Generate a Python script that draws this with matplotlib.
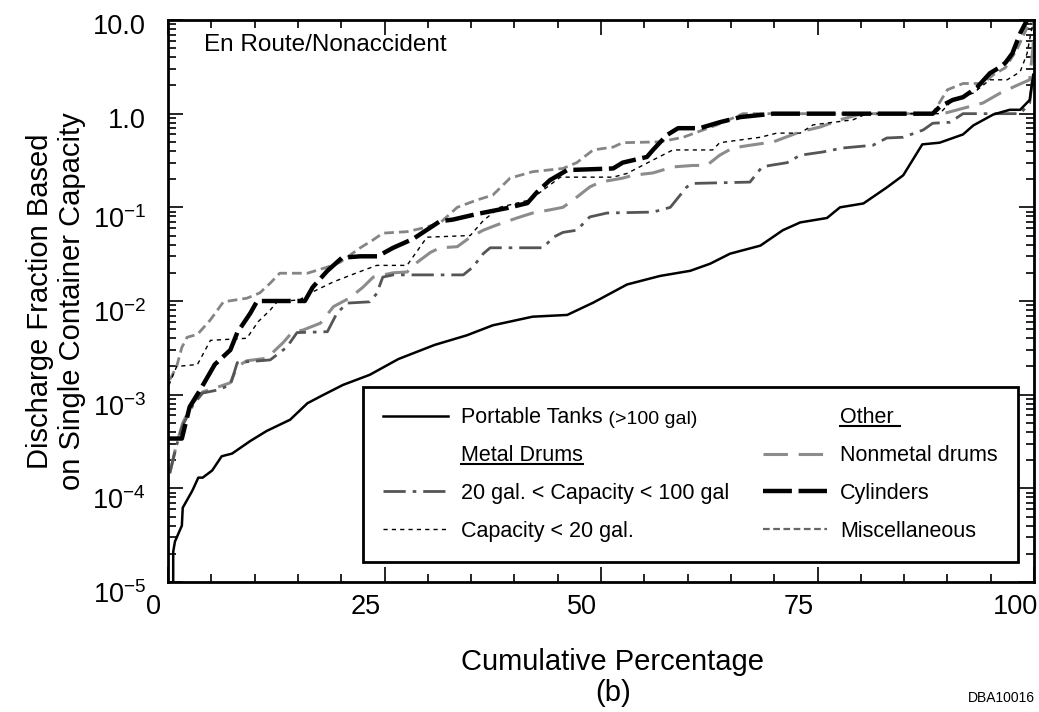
import numpy as np
import matplotlib
matplotlib.use("Agg")
import matplotlib.pyplot as plt
import matplotlib.ticker as mticker
import matplotlib.transforms as mtransforms
from matplotlib.lines import Line2D

plt.rcParams['font.family'] = ['Liberation Sans', 'DejaVu Sans']
plt.rcParams['mathtext.fontset'] = 'custom'
plt.rcParams['mathtext.rm'] = 'Liberation Sans'
plt.rcParams['mathtext.it'] = 'Liberation Sans'

# ---- data (x = cumulative %, y = discharge fraction) ----
pt_x = [0.6, 0.6, 0.8, 1.6, 1.7, 2.8, 3.5, 4.0, 5.1, 6.2, 7.4, 9.5, 11.4, 14.1, 16.1, 17.9,
        20.2, 23.3, 26.6, 30.8, 34.5, 37.5, 42.1, 46.1, 49.1, 53.0, 56.8, 60.3, 62.6, 64.9,
        68.4, 71.0, 73.0, 76.1, 77.6, 80.3, 83.0, 84.9, 87.1, 89.1, 91.8, 93.0, 95.3, 97.2,
        98.4, 99.5, 99.9]
pt_y = [1.0e-5, 2.1e-5, 2.7e-5, 4.0e-5, 6.2e-5, 9.4e-5, 1.3e-4, 1.3e-4, 1.55e-4, 2.2e-4,
        2.35e-4, 3.2e-4, 4.1e-4, 5.4e-4, 8.1e-4, 9.9e-4, 1.27e-3, 1.63e-3, 2.4e-3, 3.4e-3,
        4.3e-3, 5.5e-3, 6.8e-3, 7.1e-3, 9.6e-3, 0.015, 0.0185, 0.021, 0.025, 0.032, 0.039,
        0.057, 0.069, 0.077, 0.10, 0.11, 0.163, 0.22, 0.47, 0.49, 0.6, 0.75, 0.98, 1.1, 1.1,
        1.4, 2.6]

md_x = [0.2, 1.0, 1.7, 2.9, 4.0, 5.7, 7.2, 8.0, 11.8, 13.7, 14.9, 18.4, 19.5, 20.7, 23.3,
        24.1, 24.8, 26.0, 34.1, 35.2, 36.4, 37.2, 43.3, 44.5, 45.6, 47.2, 48.7, 50.7, 56.0,
        58.0, 59.9, 60.6, 67.2, 68.6, 69.5, 71.5, 73.0, 75.6, 77.9, 81.4, 83.0, 84.9, 87.2,
        88.3, 90.3, 91.8, 98.4, 99.5, 99.9]
md_y = [1.45e-4, 2.9e-4, 4.7e-4, 7.8e-4, 1.04e-3, 1.12e-3, 1.27e-3, 2.2e-3, 2.35e-3, 3.2e-3,
        4.6e-3, 4.7e-3, 7.4e-3, 9.5e-3, 9.8e-3, 0.012, 0.018, 0.019, 0.019, 0.023, 0.032,
        0.037, 0.037, 0.048, 0.054, 0.057, 0.079, 0.087, 0.089, 0.10, 0.165, 0.18, 0.186,
        0.27, 0.28, 0.30, 0.36, 0.39, 0.43, 0.46, 0.55, 0.56, 0.67, 0.79, 0.81, 1.0, 1.0,
        1.3, 2.6]

c20_x = [0.1, 1.0, 3.4, 4.9, 9.1, 10.4, 11.8, 12.6, 15.2, 16.7, 19.1, 21.8, 24.1, 27.6,
         29.9, 34.9, 36.4, 38.3, 41.8, 43.8, 45.3, 51.4, 53.0, 56.0, 58.3, 62.9, 63.7, 68.4,
         70.3, 73.0, 74.5, 79.1, 80.7, 89.1, 90.6, 93.0, 94.9, 96.9, 98.4, 99.2, 99.7, 100.0]
c20_y = [1.26e-3, 2.0e-3, 2.1e-3, 3.8e-3, 4.0e-3, 6.0e-3, 8.0e-3, 9.8e-3, 0.0103, 0.0125,
         0.016, 0.020, 0.024, 0.024, 0.048, 0.050, 0.072, 0.10, 0.12, 0.165, 0.21, 0.21,
         0.23, 0.32, 0.41, 0.41, 0.49, 0.56, 0.62, 0.62, 0.76, 0.86, 1.0, 1.0, 1.4, 1.66,
         2.3, 2.3, 2.8, 4.4, 7.8, 10.0]

nm_x = [0.2, 1.0, 1.7, 2.9, 4.0, 5.7, 7.2, 8.0, 9.1, 11.4, 13.3, 14.3, 15.6, 17.6, 19.1,
        21.0, 22.5, 23.7, 26.0, 27.6, 28.8, 30.3, 31.4, 33.4, 34.9, 36.4, 38.0, 40.3, 42.1,
        44.1, 45.6, 46.8, 48.7, 49.9, 52.5, 53.7, 56.0, 58.3, 60.6, 62.2, 63.7, 65.2, 67.2,
        69.9, 73.0, 75.3, 77.6, 79.6, 81.4, 89.5, 94.1, 96.1, 98.0, 99.5, 99.9, 100.0]
nm_y = [1.45e-4, 3.0e-4, 5.0e-4, 8.2e-4, 1.07e-3, 1.2e-3, 1.34e-3, 2.0e-3, 2.3e-3, 2.45e-3,
        3.6e-3, 4.6e-3, 4.9e-3, 5.8e-3, 8.7e-3, 0.0108, 0.014, 0.018, 0.020, 0.0204, 0.026,
        0.033, 0.037, 0.038, 0.048, 0.057, 0.065, 0.077, 0.087, 0.094, 0.10, 0.12, 0.165,
        0.186, 0.205, 0.22, 0.233, 0.27, 0.28, 0.28, 0.36, 0.43, 0.46, 0.50, 0.64, 0.72,
        0.86, 0.97, 1.0, 1.0, 1.3, 1.66, 2.0, 2.3, 5.4, 10.0]

cy_x = [0.0, 1.6, 2.5, 3.7, 5.4, 7.2, 8.0, 9.5, 10.3, 15.8, 16.7, 18.4, 20.1, 22.2, 24.2,
        26.0, 28.3, 31.4, 32.9, 35.7, 39.1, 41.5, 42.6, 44.1, 46.1, 51.4, 52.5, 55.3, 56.0,
        57.6, 58.9, 61.4, 63.7, 66.1, 69.9, 88.3, 89.1, 90.6, 91.8, 93.4, 94.9, 96.1, 96.7,
        97.5, 98.4, 99.2]
cy_y = [3.4e-4, 3.4e-4, 7.4e-4, 1.12e-3, 2.1e-3, 3.0e-3, 4.6e-3, 7.4e-3, 0.0100, 0.0100,
        0.014, 0.021, 0.029, 0.030, 0.030, 0.037, 0.046, 0.071, 0.074, 0.085, 0.098, 0.111,
        0.145, 0.195, 0.25, 0.26, 0.30, 0.345, 0.41, 0.59, 0.70, 0.70, 0.81, 0.92, 1.0, 1.0,
        1.18, 1.4, 1.5, 1.9, 2.7, 3.15, 3.5, 4.4, 7.2, 10.0]

mi_x = [0.2, 1.0, 1.6, 2.2, 3.4, 4.9, 6.4, 9.1, 10.6, 11.8, 12.9, 16.1, 18.4, 19.9, 22.2,
        23.7, 24.8, 27.6, 29.4, 31.4, 33.4, 35.7, 37.5, 39.5, 42.1, 45.6, 47.2, 49.1, 51.4,
        52.5, 56.8, 59.5, 63.4, 66.4, 88.3, 90.0, 91.8, 94.1, 95.3, 96.7, 98.0, 99.5, 99.8]
mi_y = [1.44e-3, 2.0e-3, 3.2e-3, 4.1e-3, 4.4e-3, 6.3e-3, 9.8e-3, 0.0107, 0.0122, 0.0155,
        0.0198, 0.0198, 0.023, 0.026, 0.037, 0.045, 0.053, 0.055, 0.060, 0.068, 0.10, 0.12,
        0.135, 0.205, 0.24, 0.26, 0.30, 0.41, 0.44, 0.49, 0.50, 0.56, 0.76, 1.0, 1.0, 1.8,
        2.1, 2.1, 2.6, 3.1, 4.8, 9.5, 10.0]

x_ticks = [0, 25, 50, 75, 100]
y_ticks = [1e-5, 1e-4, 1e-3, 1e-2, 1e-1, 1.0, 10.0]
y_ticklabels = [r'$10^{-5}$', r'$10^{-4}$', r'$10^{-3}$', r'$10^{-2}$', r'$10^{-1}$', '1.0', '10.0']

# line styles
st_mi = dict(color='#858585', lw=2.0, dashes=(3.5, 1.8))
st_nm = dict(color='#8c8c8c', lw=2.2, dashes=(8, 3.5))
st_md = dict(color='#555555', lw=2.0, dashes=(8, 2.5, 1.3, 2.5))
st_c20 = dict(color='black', lw=1.0, dashes=(3, 3))
st_cy = dict(color='black', lw=3.2, dashes=(6.5, 1.5))
st_pt = dict(color='black', lw=1.8)

fig = plt.figure(figsize=(10.39, 7.12), dpi=100)
ax = fig.add_axes([0.1617, 0.1826, 0.8335, 0.7893])

ax.plot(mi_x, mi_y, zorder=2, **st_mi)
ax.plot(nm_x, nm_y, zorder=2, **st_nm)
ax.plot(md_x, md_y, zorder=2, **st_md)
ax.plot(c20_x, c20_y, zorder=3, **st_c20)
ax.plot(cy_x, cy_y, zorder=3, **st_cy)
ax.plot(pt_x, pt_y, zorder=3, **st_pt)

ax.set_yscale('log')
ax.set_xlim(0, 100)
ax.set_ylim(1e-5, 10)
ax.set_xticks(x_ticks)
ax.set_xticklabels([str(v) for v in x_ticks])
ax.xaxis.set_minor_locator(mticker.MultipleLocator(5))
ax.set_yticks(y_ticks)
ax.set_yticklabels(y_ticklabels)
ax.yaxis.set_minor_locator(mticker.LogLocator(base=10, subs=np.arange(2, 10)))
ax.yaxis.set_minor_formatter(mticker.NullFormatter())

ax.tick_params(which='both', direction='in', top=True, right=True, width=1.2)
ax.tick_params(which='major', length=11, labelsize=19.5)
ax.tick_params(which='minor', length=6)
ax.tick_params(axis='x', pad=9)
ax.tick_params(axis='y', pad=16)
for s in ax.spines.values():
    s.set_linewidth(2)

# labels sit a bit left of (x) / below (y) their ticks in the original
for i, lbl in enumerate(ax.get_xticklabels()):
    dx = -0.15 if i == 0 else -0.19
    lbl.set_transform(lbl.get_transform() + mtransforms.ScaledTranslation(dx, 0, fig.dpi_scale_trans))
for lbl, s in zip(ax.get_yticklabels(), y_ticklabels):
    dy = -0.10 if s.startswith('$') else -0.04
    lbl.set_transform(lbl.get_transform() + mtransforms.ScaledTranslation(0, dy, fig.dpi_scale_trans))

ax.set_xlabel('Cumulative Percentage', fontsize=21)
ax.xaxis.set_label_coords(0.513, -0.118)
ax.set_ylabel('Discharge Fraction Based\non Single Container Capacity', fontsize=21,
              linespacing=1.15)
ax.yaxis.set_label_coords(-0.095, 0.5)

ax.text(0.042, 0.955, 'En Route/Nonaccident', transform=ax.transAxes, fontsize=17.5,
        va='center', ha='left')
fig.text(0.59, 0.026, '(b)', fontsize=21, ha='center', va='center')
fig.text(0.996, 0.02, 'DBA10016', fontsize=10, ha='right', va='center')

# legend
blank = Line2D([], [], linestyle='none')
handles = [
    Line2D([], [], **st_pt),
    blank,
    Line2D([], [], **st_md),
    Line2D([], [], **st_c20),
    blank,
    Line2D([], [], **st_nm),
    Line2D([], [], **st_cy),
    Line2D([], [], color='#666666', lw=1.6, dashes=(3, 1.6)),
]
labels = ['Portable Tanks', 'Metal Drums', '20 gal. < Capacity < 100 gal',
          'Capacity < 20 gal.', 'Other ', 'Nonmetal drums', 'Cylinders', 'Miscellaneous']
leg = ax.legend(handles, labels, ncol=2, loc='upper left', bbox_to_anchor=(0.2252, 0.347),
                borderaxespad=0, fontsize=15.5, frameon=True, fancybox=False,
                edgecolor='black', framealpha=1, handlelength=3.0, handletextpad=0.6,
                labelspacing=0.78, columnspacing=1.55, borderpad=0.95)
leg.get_frame().set_linewidth(2)
leg.set_zorder(5)

txt = leg.get_texts()
ax.annotate(' (>100 gal)', xy=(1, 0), xycoords=txt[0], fontsize=14, va='bottom',
            ha='left', zorder=6, annotation_clip=False)

fig.canvas.draw()
inv = fig.transFigure.inverted()
for i in (1, 4):
    bb = txt[i].get_window_extent()
    p0 = inv.transform((bb.x0, bb.y0 + 2))
    p1 = inv.transform((bb.x1, bb.y0 + 2))
    fig.add_artist(Line2D([p0[0], p1[0]], [p0[1], p1[1]], color='black', lw=1.5,
                          transform=fig.transFigure, zorder=10))

fig.savefig('out.png', dpi=100)
